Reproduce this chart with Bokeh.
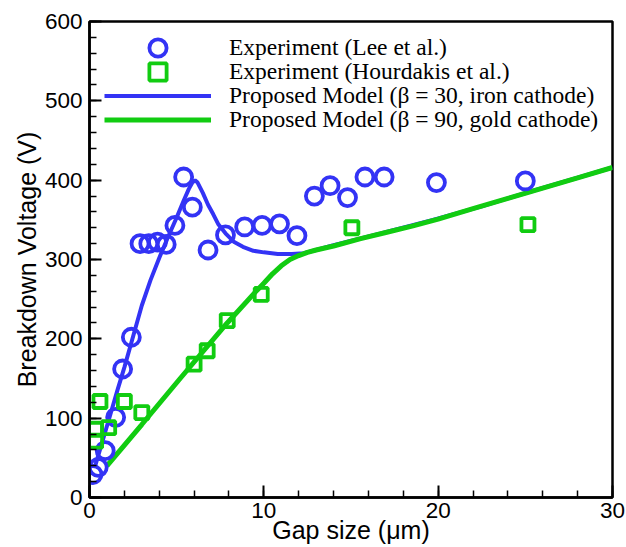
from bokeh.plotting import figure
from bokeh.models import Legend, LegendItem, Range1d, FixedTicker
from bokeh.embed import file_html
from bokeh.resources import INLINE

# Experiment (Lee et al.)
lee_x = [0.2, 0.5, 0.9, 1.5, 1.9, 2.4, 2.9, 3.4, 3.9, 4.4, 4.9, 5.4, 5.9, 6.8,
         7.8, 8.9, 9.9, 10.9, 11.9, 12.9, 13.8, 14.8, 15.8, 16.9, 19.9, 25.0]
lee_y = [29, 38, 59, 101, 162, 202, 320, 320, 322, 319, 343, 404, 366, 312,
         331, 341, 343, 345, 330, 380, 393, 378, 404, 404, 397, 399]

# Experiment (Hourdakis et al.)
hou_x = [0.35, 0.35, 0.6, 1.1, 2.0, 3.0, 6.0, 6.75, 7.9, 9.85, 15.05, 25.15]
hou_y = [71, 86, 121, 88, 121, 107, 168, 185, 223, 256, 340, 344]

# Proposed model, beta = 30, iron cathode
iron_x = [0.3, 0.8, 1.2, 1.6, 2.0, 2.5, 3.0, 3.5, 4.0, 4.5, 5.0, 5.4, 5.7, 5.9,
          6.05, 6.2, 6.5, 6.8, 7.1, 7.4, 7.8, 8.3, 8.8, 9.4, 10.0, 10.8, 11.6,
          12.3, 13.0, 14.0, 16.7, 19.7, 22.5, 25.5, 28.0, 30.0]
iron_y = [38, 75, 105, 135, 164, 203, 242, 274, 302, 328, 353, 374, 389, 397,
          400, 397, 384, 369, 357, 344, 333, 322, 316, 311, 309, 307, 307,
          308, 312, 318, 333, 350, 367, 387, 403, 416]

# Proposed model, beta = 90, gold cathode
gold_x = [1.0, 3.0, 5.2, 7.9, 9.6, 10.0, 10.5, 11.0, 11.5, 12.0, 12.5, 13.0,
          14.0, 15.5, 17.0, 18.5, 20.0, 22.0, 24.0, 26.0, 28.0, 30.0]
gold_y = [40, 92, 150, 220, 261, 270, 282, 292, 300, 305, 309, 312,
          317, 326, 334, 342, 351, 364, 377, 390, 403, 416]

x_ticks = [0, 10, 20, 30]
y_ticks = [0, 100, 200, 300, 400, 500, 600]

labels = ["Experiment (Lee et al.)",
          "Experiment (Hourdakis et al.)",
          "Proposed Model (\u03b2 = 30, iron cathode)",
          "Proposed Model (\u03b2 = 90, gold cathode)"]

BLUE = "#3333f5"
GREEN = "#11cc11"

p = figure(width=626, height=547, x_range=Range1d(0, 30), y_range=Range1d(0, 600),
           output_backend="svg", toolbar_location=None,
           min_border_left=89, min_border_right=14, min_border_top=21,
           min_border_bottom=50)

p.xgrid.visible = False
p.ygrid.visible = False
p.outline_line_color = "black"
p.outline_line_width = 2.5
p.background_fill_color = "white"
p.border_fill_color = "white"

r_iron = p.line(iron_x, iron_y, line_color=BLUE, line_width=4)
r_gold = p.line(gold_x, gold_y, line_color=GREEN, line_width=5)
r_lee = p.scatter(lee_x, lee_y, marker="circle", size=17, fill_color=None,
                  line_color=BLUE, line_width=3.8)
r_hou = p.scatter(hou_x, hou_y, marker="square", size=13, fill_color=None,
                  line_color=GREEN, line_width=3.8)

p.xaxis.ticker = FixedTicker(ticks=x_ticks, minor_ticks=list(range(0, 31, 2)))
p.yaxis.ticker = FixedTicker(ticks=y_ticks, minor_ticks=list(range(0, 601, 20)))

for ax in (p.xaxis[0], p.yaxis[0]):
    ax.axis_line_color = "black"
    ax.axis_line_width = 2.5
    ax.major_tick_in = 12
    ax.major_tick_out = 0
    ax.minor_tick_in = 7
    ax.minor_tick_out = 0
    ax.major_tick_line_width = 2
    ax.minor_tick_line_width = 1.5
    ax.major_tick_line_color = "black"
    ax.minor_tick_line_color = "black"
    ax.major_label_text_font = "Liberation Sans"
    ax.major_label_text_font_size = "22.5px"
    ax.major_label_text_color = "black"
    ax.axis_label_text_font = "Liberation Sans"
    ax.axis_label_text_font_size = "25px"
    ax.axis_label_text_font_style = "normal"
    ax.axis_label_text_color = "black"

p.xaxis.axis_label = "Gap size (\u03bcm)"
p.yaxis.axis_label = "Breakdown Voltage (V)"
p.xaxis.major_label_standoff = 5
p.xaxis.axis_label_standoff = -5
p.yaxis.major_label_standoff = 7
p.yaxis.axis_label_standoff = 1

renderers = [r_lee, r_hou, r_iron, r_gold]
offsets = [428, 404, 380, 356]
for lab, rend, vy in zip(labels, renderers, offsets):
    lg = Legend(items=[LegendItem(label=lab, renderers=[rend])],
                location=(15, vy), margin=0, padding=0,
                glyph_width=107, glyph_height=43, label_height=43, spacing=0,
                label_standoff=18,
                label_text_font="Liberation Serif", label_text_font_size="23.5px",
                label_text_color="black",
                border_line_alpha=0, background_fill_alpha=0)
    p.add_layout(lg)

open("out.html", "w").write(file_html(p, INLINE))
